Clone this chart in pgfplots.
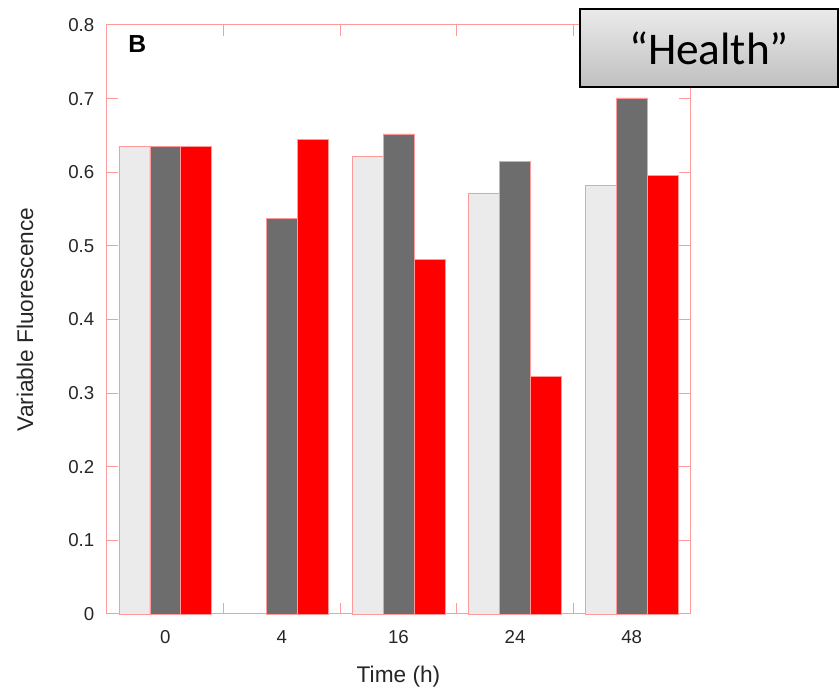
\documentclass[border=0pt]{standalone}
\usepackage{pgfplots}
\pgfplotsset{compat=1.18}
\usepackage{fontspec}
\setmainfont{Liberation Sans}
\newfontfamily\calibri{Carlito}
\definecolor{lightbar}{HTML}{EBEBEB}
\definecolor{darkbar}{HTML}{6D6D6D}
\definecolor{axisred}{HTML}{FF9A9A}
\begin{document}
\begin{tikzpicture}[x=0.75pt,y=0.75pt]
\path[use as bounding box] (0,0) rectangle (840,692);
\begin{axis}[ybar=0pt, bar width=0.265,
  at={(80.25pt,58.5pt)}, anchor=south west, scale only axis,
  width=437.25pt, height=441.75pt,
  xmin=-0.5, xmax=4.5, ymin=0, ymax=0.8,
  xtick={0.5,1.5,2.5,3.5}, xticklabels={},
  extra x ticks={0,1,2,3,4}, extra x tick labels={0,4,16,24,48},
  extra x tick style={major tick length=0pt},
  ytick={0,0.1,0.2,0.3,0.4,0.5,0.6,0.7,0.8},
  yticklabel style={/pgf/number format/fixed, /pgf/number format/precision=1, xshift=-6pt},
  xticklabel style={yshift=-9pt},
  /pgf/number format/assume math mode=true,
  tick label style={font=\fontsize{14}{16}\selectfont, text=black!85},
  label style={font=\fontsize{17}{20}\selectfont, text=black!85},
  axis line style={draw=axisred, line width=0.75pt},
  tick align=inside, xtick align=inside, ytick align=inside,
  major tick length=8pt,
  tick style={draw=axisred, line width=0.75pt},
  xlabel={Time (h)}, ylabel={Variable Fluorescence},
  x label style={at={(axis description cs:0.5,-0.107)}, anchor=center},
  y label style={at={(axis description cs:-0.1407,0.5)}, anchor=center},
  every axis plot/.append style={draw=axisred, line width=0.5pt},
  clip=false,
]
\addplot[fill=lightbar, draw=axisred] coordinates {(0,0.635) (2,0.622) (3,0.572) (4,0.582)};
\addplot[fill=darkbar, draw=axisred] coordinates {(0,0.635) (1,0.537) (2,0.652) (3,0.615) (4,0.701)};
\addplot[fill=red, draw=axisred] coordinates {(0,0.635) (1,0.645) (2,0.482) (3,0.323) (4,0.596)};
\node[font=\fontsize{18.5}{20}\selectfont\bfseries] at (axis description cs:0.052,0.968) {B};
\end{axis}
\shade[top color=black!8, bottom color=black!25, draw=black, line width=1.5pt] (580,605) rectangle (838,683);
\node[font=\calibri\fontsize{34}{40}\selectfont] at (709,644) {“Health”};
\end{tikzpicture}
\end{document}
